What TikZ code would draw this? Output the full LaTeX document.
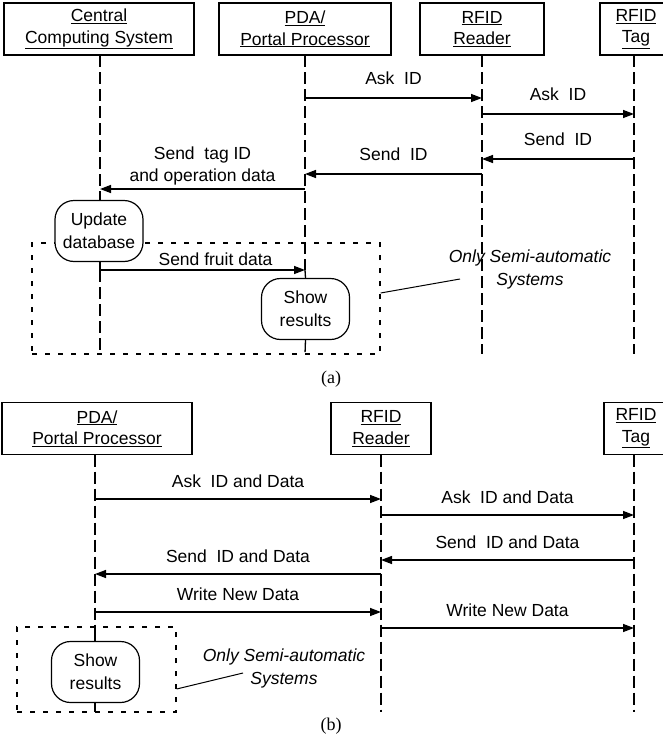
\documentclass[tikz,border=0pt]{standalone}
\usepackage{fontspec}
\setmainfont{Liberation Sans}
\newfontfamily\capfont{Liberation Serif}
\usetikzlibrary{arrows.meta,positioning}
\tikzset{
    every picture/.style={line join=miter},
    actorbox/.style={draw,line width=1.1pt,inner sep=0pt,outer sep=0pt,
      minimum height=52pt,align=center,font=\fontsize{17.5}{21.5}\selectfont},
    lifeline/.style={line width=1.3pt,dash pattern=on 12pt off 5pt},
    solidline/.style={line width=1.3pt},
    msgarrow/.style={-{Triangle[length=11pt,width=8pt]},line width=1.4pt},
    msglabel/.style={inner sep=2pt,text height=12.5pt,text depth=4pt,
      align=center,font=\fontsize{17.5}{22}\selectfont},
    taskbox/.style={draw,fill=white,line width=1.2pt,rounded corners=19pt,inner sep=0pt,
      minimum width=88pt,minimum height=61pt,align=center,
      font=\fontsize{17.5}{23}\selectfont},
    optframe/.style={line width=1.2pt,dash pattern=on 5pt off 8pt},
    notetext/.style={align=center,font=\itshape\fontsize{17.5}{23}\selectfont},
    captext/.style={font=\capfont\fontsize{18}{20}\selectfont}
}

\begin{document}
\begin{tikzpicture}[x=1pt,y=-1pt]
  \useasboundingbox (0,0) rectangle (663,744);
  % (a) portal and central system
  \node[actorbox,minimum width=190pt] (cc) at (99,29)
    {\underline{Central}\\\underline{Computing System}};
  \node[actorbox,minimum width=172pt] (pda) at (305,29)
    {\underline{PDA/}\\\underline{Portal Processor}};
  \node[actorbox,minimum width=124pt] (rdr) at (482,29)
    {\underline{RFID}\\\underline{Reader}};
  \node[actorbox,minimum width=72pt] (tag) at (636,29)
    {\underline{RFID}\\\underline{Tag}};
  \node[optframe,draw,minimum width=348pt,minimum height=111pt] (opta) at (206,298.5) {};
  \node[taskbox] (upd) at (99,231) {Update\\database};
  \node[taskbox] (show) at (305.5,309) {Show\\results};
  \coordinate (ccend) at (100,354);
  \coordinate (pdaend) at (305,354);
  \coordinate (rdrend) at (482,354);
  \coordinate (tagend) at (634,354);
  \draw[lifeline] (cc.south -| ccend) -- (upd.north -| ccend);
  \draw[solidline] (upd.south -| ccend) -- (ccend |- 0,270);
  \draw[lifeline] (ccend |- 0,270) -- (ccend);
  \draw[lifeline] (pda.south) -- (pda.south |- 0,270);
  \draw[solidline] (pda.south |- 0,270) -- (show.north);
  \draw[lifeline] (show.south) -- (pdaend);
  \draw[lifeline] (rdr.south) -- (rdrend);
  \draw[lifeline] (tag.south -| tagend) -- (tagend);
  \foreach \a/\b/\y/\t in {pdaend/rdrend/98/Ask\ \ ID,rdrend/tagend/114/Ask\ \ ID,
      tagend/rdrend/159/Send\ \ ID,rdrend/pdaend/174/Send\ \ ID}
    \draw[msgarrow] (\a |- 0,\y) -- (\b |- 0,\y)
      node[msglabel,midway,above=6.5pt] {\t};
  \draw[msgarrow] (pdaend |- 0,189) -- (ccend |- 0,189)
    node[msglabel,midway,above=0.5pt] {Send\ \ tag ID\\and operation data};
  \draw[msgarrow] (ccend |- 0,270) -- (pdaend |- 0,270)
    node[msglabel,midway,above=-2pt,xshift=13pt] {Send fruit data};
  \node[notetext] (notea) at (530,269.5) {Only Semi-automatic\\Systems};
  \draw[solidline,line width=1pt] (opta.east |- 0,293) -- (460,279);
  \node[captext] (capa) at (331,379) {(a)};
  % (b) portal only
  \node[actorbox,minimum width=190pt] (pdab) at (97,428.5)
    {\underline{PDA/}\\\underline{Portal Processor}};
  \node[actorbox,minimum width=100pt] (rdrb) at (381,428.5)
    {\underline{RFID}\\\underline{Reader}};
  \node[actorbox,minimum width=64pt] (tagb) at (636,428.5)
    {\underline{RFID}\\\underline{Tag}};
  \node[optframe,draw,minimum width=159pt,minimum height=85pt] (optb) at (96.5,669.5) {};
  \node[taskbox] (showb) at (95.5,672) {Show\\results};
  \coordinate (pdabend) at (95,712);
  \coordinate (rdrbend) at (381,712);
  \coordinate (tagbend) at (634,712);
  \draw[lifeline] (pdab.south -| pdabend) -- (optb.north -| pdabend);
  \draw[solidline] (optb.north -| pdabend) -- (showb.north -| pdabend);
  \draw[solidline] (showb.south -| pdabend) -- (pdabend);
  \draw[lifeline] (rdrb.south) -- (rdrbend);
  \draw[lifeline] (tagb.south -| tagbend) -- (tagbend);
  \foreach \a/\b/\y/\t in {pdabend/rdrbend/499/Ask\ \ ID and Data,rdrbend/tagbend/515/Ask\ \ ID and Data,
      tagbend/rdrbend/560/Send\ \ ID and Data,rdrbend/pdabend/574/Send\ \ ID and Data,
      pdabend/rdrbend/612/Write New Data,rdrbend/tagbend/628/Write New Data}
    \draw[msgarrow] (\a |- 0,\y) -- (\b |- 0,\y)
      node[msglabel,midway,above=5pt] {\t};
  \node[notetext] (noteb) at (284,668) {Only Semi-automatic\\Systems};
  \draw[solidline,line width=1pt] (optb.east |- 0,689) -- (243,673);
  \node[captext] (capb) at (331,726) {(b)};
\end{tikzpicture}
\end{document}
